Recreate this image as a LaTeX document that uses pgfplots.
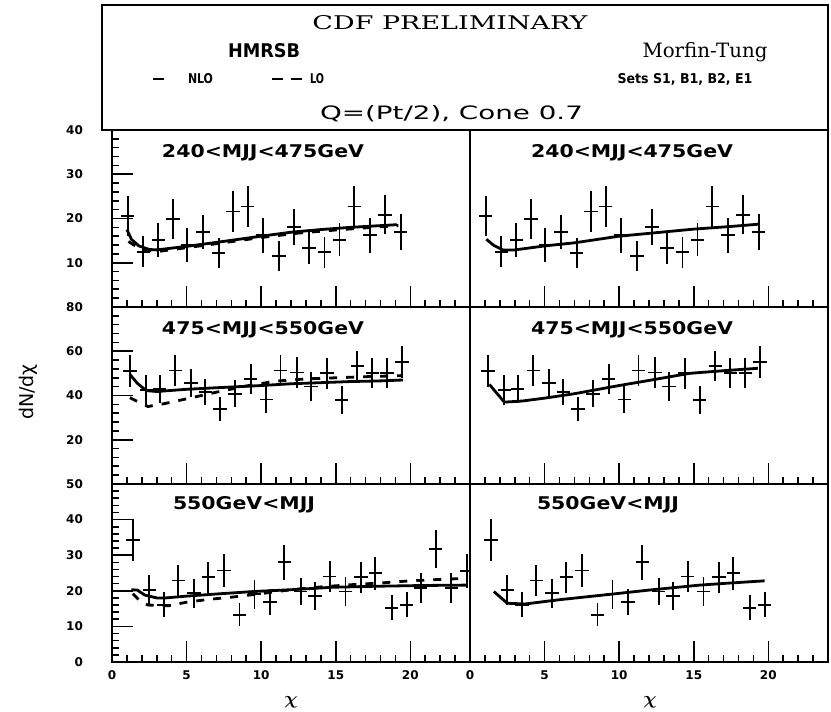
\documentclass[border=0pt]{standalone}
\usepackage{graphicx}
\usepackage{bm}
\usepackage{fontspec}
\usepackage{pgfplots}
\usepackage{pgfplotstable}
\pgfplotsset{compat=1.18}
\newfontfamily\sans{DejaVu Sans}
\newfontfamily\serif{DejaVu Serif}
\newcommand\tickfont{\fontsize{6}{6}\selectfont\sans\bfseries}

\pgfplotstableread{
x y e
1.05 20.6 4.5
2.1 12.5 3.5
3.1 15.1 3.8
4.1 19.8 4.5
5.05 14.0 3.8
6.1 17.0 3.9
7.15 12.2 3.4
8.1 21.6 4.6
9.1 22.7 4.6
10.1 16.2 3.9
11.2 11.5 3.4
12.2 18.0 4.1
13.2 13.3 3.6
14.25 12.4 3.5
15.25 15.2 3.7
16.25 22.7 4.6
17.3 16.2 3.9
18.3 20.8 4.4
19.35 17.0 4.1
}\toprow

\pgfplotstableread{
x y e
1.2 51.0 7.3
2.3 42.5 6.6
3.2 43.0 6.3
4.25 51.3 7.0
5.3 45.6 6.3
6.25 41.5 6.0
7.25 34.0 5.5
8.25 40.8 6.2
9.3 47.4 6.9
10.35 38.2 6.2
11.3 51.3 7.0
12.4 50.4 6.9
13.35 44.1 6.4
14.4 50.0 6.9
15.4 38.1 6.3
16.45 53.3 6.7
17.45 50.0 6.8
18.45 50.2 6.9
19.45 55.2 7.3
}\midrow

\pgfplotstableread{
x y e
1.4 34.3 5.8
2.5 20.3 4.2
3.5 16.1 3.6
4.45 22.9 4.3
5.5 19.3 4.1
6.45 23.8 4.3
7.5 25.7 4.7
8.55 13.3 3.3
9.55 19.0 4.0
10.6 16.9 3.7
11.55 28.0 5.0
12.65 19.8 3.9
13.6 18.6 4.0
14.6 24.0 4.4
15.65 19.8 4.2
16.7 23.8 4.4
17.65 24.9 4.6
18.75 15.2 3.5
19.75 16.1 3.5
}\botrow

\pgfplotstableread{
x y e
20.7 20.7 4.2
21.7 31.7 5.4
22.75 20.7 4.2
23.8 25.6 4.7
}\botextra

\pgfplotsset{
 panel/.style={scale only axis, width=179pt, xmin=0, xmax=24,
   xtick={0,5,10,15,20}, minor xtick={0,1,...,24},
   tick align=inside, major tick length=10.5pt, minor tick length=3.5pt,
   xtick pos=left, ytick pos=left, axis line style={line width=1pt},
   tick style={black, line width=0.8pt},
   minor tick style={black, line width=0.8pt},
   tick label style={font=\tickfont},
   /pgf/number format/assume math mode=true,
   xticklabels={}, yticklabel style={xshift=-11pt}, xticklabel style={yshift=-1pt}},
 rpanel/.style={panel, ytick=\empty, minor ytick=\empty},
 dat/.style={draw=none, mark=none, error bars/.cd, x dir=both, x fixed=0.45,
   y dir=both, y explicit, error mark=none,
   error bar style={draw=black, solid, line width=0.9pt}},
 nlo/.style={black, line width=1.4pt, mark=none},
 lo/.style={black, line width=1.4pt, mark=none, dash pattern=on 4pt off 4.5pt},
}

\begin{document}
\begin{tikzpicture}
\useasboundingbox (0,0) rectangle (415.5pt,356pt);

% header box
\draw[line width=1pt] (51pt,291pt) rectangle (414pt,353.5pt);
\node[anchor=base,inner sep=0] at (225pt,341pt) {\resizebox{137.5pt}{7pt}{\serif CDF PRELIMINARY}};
\node[anchor=base,inner sep=0] at (132pt,327pt) {\resizebox{36pt}{7pt}{\sans\bfseries HMRSB}};
\node[anchor=base,inner sep=0] at (352.5pt,327pt) {\resizebox{62.5pt}{7.5pt}{\serif Morfin-Tung}};
\node[anchor=base,inner sep=0] at (100.25pt,314pt) {\resizebox{12.5pt}{5pt}{\sans\bfseries NLO}};
\node[anchor=base,inner sep=0] at (158.5pt,314pt) {\resizebox{7pt}{5pt}{\sans\bfseries LO}};
\draw[line width=1.3pt] (76.5pt,316.5pt) -- (82pt,316.5pt);
\draw[line width=1.3pt] (136pt,316.5pt) -- (141.5pt,316.5pt);
\draw[line width=1.3pt] (145.5pt,316.5pt) -- (151pt,316.5pt);
\node[anchor=base,inner sep=0] at (342.5pt,314pt) {\resizebox{67.5pt}{5pt}{\sans\bfseries Sets S1, B1, B2, E1}};
\node[anchor=base,inner sep=0] at (225.75pt,296pt) {\resizebox{131.5pt}{7pt}{\sans Q=(Pt/2), Cone 0.7}};

% y label
\node[rotate=90] at (14pt,160pt) {\fontsize{9.5}{10}\selectfont\sans dN/dχ};
% x labels
\node at (145.5pt,5pt) {\fontsize{9}{9}\selectfont$\bm{\chi}$};
\node at (325pt,5pt) {\fontsize{9}{9}\selectfont$\bm{\chi}$};

% ---------- top row ----------
\begin{axis}[panel, at={(56pt,202.5pt)}, anchor=south west, height=88.5pt,
  ymin=0, ymax=40, ytick={10,20,30,40}, minor ytick={0,2,...,40}]
\addplot[lo] coordinates {(1.1,14.8)(1.8,13.3)(2.5,12.7)(3.2,12.6)(5,13.4)(7,14.3)(10,15.7)(12.5,16.7)(15,17.4)(17.5,18.0)(19.2,18.4)};
\addplot[nlo] coordinates {(1.0,17.5)(1.3,15.3)(1.8,13.8)(2.5,13.0)(3,12.9)(5,13.7)(7,14.6)(10,16.0)(12,16.9)(14,17.5)(16,18.0)(19.1,18.6)};
\addplot[dat] table[x=x,y=y,y error=e] {\toprow};
\end{axis}
\begin{axis}[rpanel, at={(235pt,202.5pt)}, anchor=south west, height=88.5pt,
  ymin=0, ymax=40]
\addplot[nlo] coordinates {(1.1,15.3)(1.6,13.9)(2.2,12.9)(3,12.9)(5,13.8)(7,14.5)(10,16.0)(12.5,16.8)(15,17.6)(17.5,18.2)(19.3,18.7)};
\addplot[dat] table[x=x,y=y,y error=e] {\toprow};
\end{axis}
\node[anchor=base,inner sep=0] at (131.5pt,277pt) {\resizebox{101pt}{6.5pt}{\sans\bfseries 240<MJJ<475GeV}};
\node[anchor=base,inner sep=0] at (316pt,277pt) {\resizebox{101pt}{6.5pt}{\sans\bfseries 240<MJJ<475GeV}};

% ---------- middle row ----------
\begin{axis}[panel, at={(56pt,114pt)}, anchor=south west, height=88.5pt,
  ymin=0, ymax=80, ytick={20,40,60,80}, minor ytick={0,4,...,80}]
\addplot[lo] coordinates {(1.2,39)(2.4,35)(3.5,36.3)(5,38.5)(7,41.5)(9,44.3)(11,46.5)(13,47.5)(15,48)(17,48.5)(19.5,49)};
\addplot[nlo] coordinates {(1.2,49.5)(1.7,45.5)(2.3,42.2)(3,41.8)(5,42.8)(7,43.5)(10,44.5)(12,45.3)(14,45.8)(16,46.3)(18,46.6)(19.5,47)};
\addplot[dat] table[x=x,y=y,y error=e] {\midrow};
\end{axis}
\begin{axis}[rpanel, at={(235pt,114pt)}, anchor=south west, height=88.5pt,
  ymin=0, ymax=80]
\addplot[nlo] coordinates {(1.3,45)(2.3,37)(3.5,37.5)(5,38.8)(7,40.8)(10,44.5)(12,46.8)(14.7,50)(17,51.2)(19.3,52.3)};
\addplot[dat] table[x=x,y=y,y error=e] {\midrow};
\end{axis}
\node[anchor=base,inner sep=0] at (131.5pt,188.5pt) {\resizebox{101pt}{6.5pt}{\sans\bfseries 475<MJJ<550GeV}};
\node[anchor=base,inner sep=0] at (316pt,188.5pt) {\resizebox{101pt}{6.5pt}{\sans\bfseries 475<MJJ<550GeV}};

% ---------- bottom row ----------
\begin{axis}[panel, at={(56pt,25pt)}, anchor=south west, height=89pt,
  ymin=0, ymax=50, ytick={0,10,20,30,40,50}, minor ytick={0,2,...,50},
  xticklabels={0,5,10,15,20}]
\addplot[lo] coordinates {(1.4,19.2)(1.9,17)(2.4,16)(3.8,15.8)(5,16.8)(6.5,17.6)(8,18.2)(10,19.2)(12,20.3)(14,21.1)(16,21.7)(18,22.2)(20,22.8)(22,23.2)(23.8,23.5)};
\addplot[nlo] coordinates {(1.3,20.3)(1.7,20.2)(2.2,18.8)(3.0,18.0)(3.6,18.0)(5,18.5)(7,19.1)(9.5,19.8)(12,20.3)(14.8,21.0)(18,21.3)(21,21.5)(23.8,21.6)};
\addplot[dat] table[x=x,y=y,y error=e] {\botrow};
\addplot[dat] table[x=x,y=y,y error=e] {\botextra};
\end{axis}
\begin{axis}[rpanel, at={(235pt,25pt)}, anchor=south west, height=89pt,
  ymin=0, ymax=50, xticklabels={0,5,10,15,20}]
\addplot[nlo] coordinates {(1.6,19.8)(2.5,16.5)(3.7,16.3)(6,17.5)(9.6,19.1)(12,20.2)(15.4,21.6)(17.5,22.2)(19.75,22.8)};
\addplot[dat] table[x=x,y=y,y error=e] {\botrow};
\end{axis}
\node[anchor=base,inner sep=0] at (122pt,101pt) {\resizebox{71pt}{6.5pt}{\sans\bfseries 550GeV<MJJ}};
\node[anchor=base,inner sep=0] at (304pt,101pt) {\resizebox{71pt}{6.5pt}{\sans\bfseries 550GeV<MJJ}};
\end{tikzpicture}
\end{document}
